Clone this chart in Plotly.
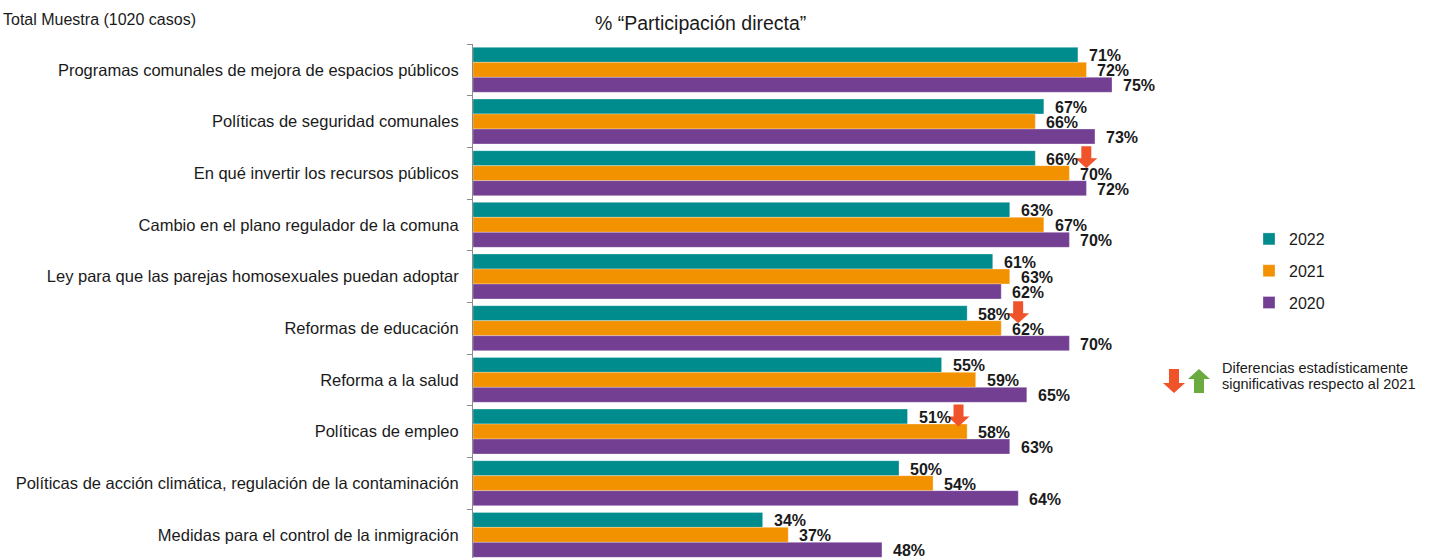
import plotly.graph_objects as go

categories = [
    "Programas comunales de mejora de espacios públicos",
    "Políticas de seguridad comunales",
    "En qué invertir los recursos públicos",
    "Cambio en el plano regulador de la comuna",
    "Ley para que las parejas homosexuales puedan adoptar",
    "Reformas de educación",
    "Reforma a la salud",
    "Políticas de empleo",
    "Políticas de acción climática, regulación de la contaminación",
    "Medidas para el control de la inmigración",
]
v2022 = [71, 67, 66, 63, 61, 58, 55, 51, 50, 34]
v2021 = [72, 66, 70, 67, 63, 62, 59, 58, 54, 37]
v2020 = [75, 73, 72, 70, 62, 70, 65, 63, 64, 48]
# significant change of 2022 vs 2021: -1 down, +1 up, 0 none
sig2022 = [0, 0, -1, 0, 0, -1, 0, -1, 0, 0]

W, H = 1436, 558
L, R, T, B = 473, 236, 44, 0
PW, PH = W - L - R, H - T - B
PX_PER_UNIT = 8.52
STEP = 51.67
BAR_PX = STEP * 0.87 / 3

def px(x):
    return (x - L) / PW

def py(y):
    return (H - B - y) / PH

series = [("2022", v2022, "#008B8C"), ("2021", v2021, "#F39200"), ("2020", v2020, "#723F93")]
fig = go.Figure()
annotations = []
for k, (name, vals, col) in enumerate(series):
    fig.add_trace(go.Bar(
        y=categories, x=vals, name=name, orientation="h",
        marker=dict(color=col, line=dict(color="rgba(255,255,255,0.6)", width=0.5)),
        legendgroup=name, hoverinfo="skip",
    ))
    for c, v in zip(categories, vals):
        annotations.append(dict(
            x=v, y=c, xref="x", yref="y", text=f"{v}%", showarrow=False,
            xanchor="left", yanchor="middle", xshift=9, yshift=(1 - k) * BAR_PX - 1,
            font=dict(family="Liberation Sans", size=16, color="#1a1a1a", weight="bold"),
        ))

shapes = []
for i, (v, s) in enumerate(zip(v2022, sig2022)):
    if s == 0:
        continue
    dx = 51
    dy = 16
    if s < 0:
        path = (f"M{dx-5},{dy+11} L{dx+5},{dy+11} L{dx+5},{dy-1} L{dx+11},{dy-1} "
                f"L{dx},{dy-11} L{dx-11},{dy-1} L{dx-5},{dy-1} Z")
        col = "#F0532A"
    else:
        path = (f"M{dx-5},{dy-11} L{dx+5},{dy-11} L{dx+5},{dy+1} L{dx+11},{dy+1} "
                f"L{dx},{dy+11} L{dx-11},{dy+1} L{dx-5},{dy+1} Z")
        col = "#6AAA3E"
    shapes.append(dict(type="path", xref="x", yref="y", xsizemode="pixel", ysizemode="pixel",
                       xanchor=v, yanchor=i, path=path, fillcolor=col, line=dict(width=0), layer="above"))

# legend-note arrows (paper)
def parr(cx, top, bottom, down, col):
    hw_s, hw_h = 5, 11
    mid = (top + bottom) / 2 + (2 if down else -2)
    if down:
        pts = [(cx - hw_s, top), (cx + hw_s, top), (cx + hw_s, mid), (cx + hw_h, mid), (cx, bottom), (cx - hw_h, mid), (cx - hw_s, mid)]
    else:
        pts = [(cx - hw_s, bottom), (cx + hw_s, bottom), (cx + hw_s, mid), (cx + hw_h, mid), (cx, top), (cx - hw_h, mid), (cx - hw_s, mid)]
    p = "M" + " L".join(f"{px(x):.5f},{py(y):.5f}" for x, y in pts) + " Z"
    return dict(type="path", xref="paper", yref="paper", path=p, fillcolor=col, line=dict(width=0))

shapes.append(parr(1174, 369, 393, True, "#F0532A"))
shapes.append(parr(1199, 369, 393, False, "#6AAA3E"))

annotations += [
    dict(text="% “Participación directa”", x=px(700), y=py(23), xref="paper", yref="paper",
         showarrow=False, xanchor="center", yanchor="middle",
         font=dict(family="Liberation Sans", size=19.5, color="#1a1a1a")),
    dict(text="Total Muestra (1020 casos)", x=px(1), y=py(20), xref="paper", yref="paper",
         showarrow=False, xanchor="left", yanchor="middle",
         font=dict(family="Liberation Sans", size=16, color="#1a1a1a")),
    dict(text="Diferencias estadísticamente", x=px(1220), y=py(368),
         xref="paper", yref="paper", showarrow=False, xanchor="left", yanchor="middle",
         font=dict(family="Liberation Sans", size=14.5, color="#1a1a1a")),
    dict(text="significativas respecto al 2021", x=px(1220), y=py(384),
         xref="paper", yref="paper", showarrow=False, xanchor="left", yanchor="middle",
         font=dict(family="Liberation Sans", size=14.5, color="#1a1a1a")),
]

fig.update_layout(
    width=W, height=H, margin=dict(l=L, r=R, t=T, b=B, pad=0, autoexpand=False),
    paper_bgcolor="white", plot_bgcolor="white",
    barmode="group", bargap=0.13, bargroupgap=0,
    showlegend=True,
    legend=dict(x=px(1249), y=py(222), xanchor="left", yanchor="top",
                font=dict(family="Liberation Sans", size=16, color="#1a1a1a"),
                tracegroupgap=8, itemwidth=30, bgcolor="rgba(0,0,0,0)"),
    xaxis=dict(range=[0, PW / PX_PER_UNIT], visible=False, fixedrange=True),
    yaxis=dict(type="category", categoryorder="array", categoryarray=categories,
               range=[-0.5 + PH / STEP, -0.5], showline=True, linecolor="#8c8c8c", linewidth=1,
               ticks="outside", tickson="boundaries", ticklen=5, tickcolor="#8c8c8c",
               ticklabelstandoff=10, fixedrange=True,
               showgrid=False, zeroline=False, automargin=False,
               tickfont=dict(family="Liberation Sans", size=16.5, color="#1a1a1a")),
    shapes=shapes, annotations=annotations,
    font=dict(family="Liberation Sans"),
)

fig.write_html("out.html", config={"displayModeBar": False},
               post_script="document.body.style.margin='0';document.body.style.overflow='hidden';")
